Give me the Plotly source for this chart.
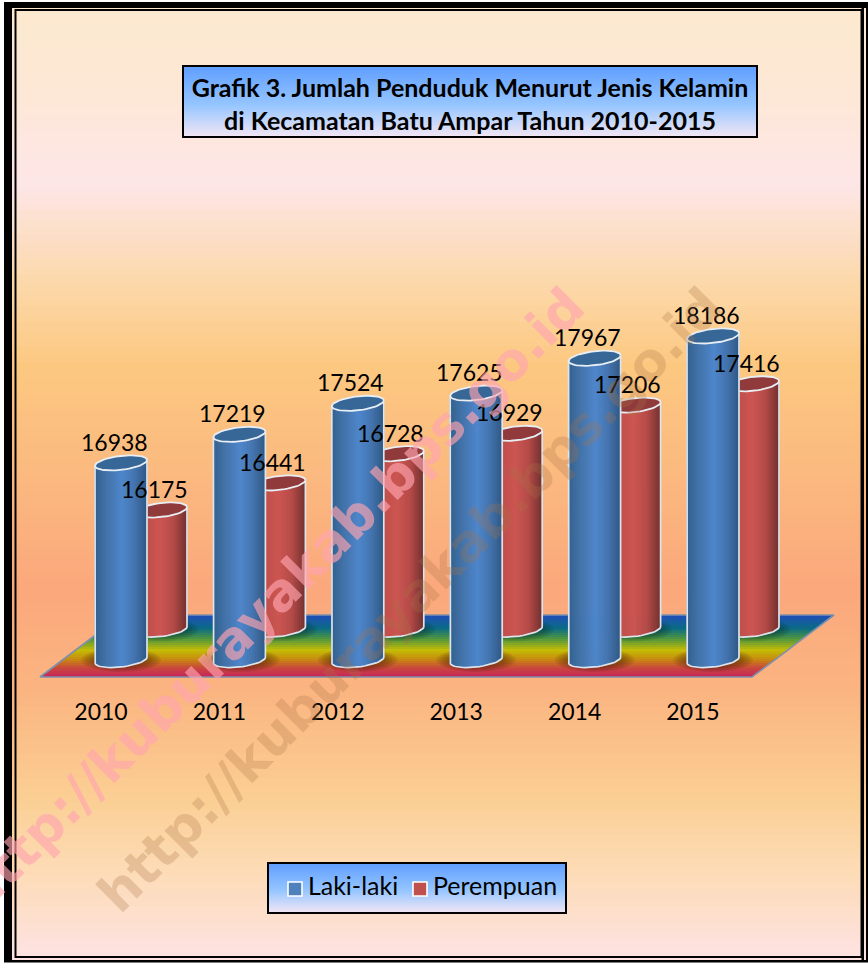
import numpy as np
import plotly.graph_objects as go

# ---------- data ----------
years = [2010, 2011, 2012, 2013, 2014, 2015]
laki = [16938, 17219, 17524, 17625, 17967, 18186]
perempuan = [16175, 16441, 16728, 16929, 17206, 17416]
year_labels = ["2010", "2011", "2012", "2013", "2014", "2015"]
series_names = ["Laki-laki", "Perempuan"]
title_lines = ["Grafik 3. Jumlah Penduduk Menurut Jenis Kelamin",
               "di Kecamatan Batu Ampar Tahun 2010-2015"]
watermark = "http://kuburayakab.bps.go.id"

# ---------- geometry (figure pixels) ----------
W, H = 868, 963
PX_PER_YEAR = 118.4
X2010 = 101.0
PX_PER_UNIT = 0.1017
BASE_VALUE = 15000
AXIS_BOTTOM = 696
BLUE_BASE, RED_BASE = 660.0, 629.5
RX, RY, TILT = 26.0, 7.0, 0.11
BLUE_OFF, RED_OFF = 20 / PX_PER_YEAR, 60 / PX_PER_YEAR
N_STRIPS = 26


def hex2rgb(c):
    return np.array([int(c[i:i + 2], 16) for i in (1, 3, 5)], float)


def mix(stops, t):
    pos = [s[0] for s in stops]
    cols = np.array([hex2rgb(s[1]) for s in stops])
    rgb = [np.interp(t, pos, cols[:, k]) for k in range(3)]
    return "rgb(%d,%d,%d)" % tuple(round(v) for v in rgb)


bg_stops = [(0, "#FCE9CE"), (0.09, "#FDE8D6"), (0.19, "#FDE6E6"), (0.30, "#FCD7A6"),
            (0.38, "#FCC880"), (0.50, "#FBB87F"), (0.61, "#FBA87C"), (0.72, "#FBB581"),
            (0.83, "#FBCF94"), (0.91, "#FDDCB8"), (1, "#FEE3E4")]
title_stops = [(0, "#5F9EFF"), (0.55, "#96C6FF"), (1, "#F3E6F5")]
floor_stops = [(0, "#1F4FB5"), (0.2, "#0A6C85"), (0.36, "#4C9440"), (0.55, "#C4BC05"),
               (0.7, "#C88A10"), (0.83, "#C94A3A"), (1, "#C6205F")]
blue_shade = [(-1, "#32608F"), (-0.55, "#4272A8"), (0.05, "#4E86CC"), (0.55, "#4373AE"), (1, "#2F5884")]
red_shade = [(-1, "#A84442"), (-0.6, "#BF4E4B"), (0.0, "#CC5551"), (0.5, "#B44A47"), (1, "#733130")]

fig = go.Figure()

# ---------- page background + boxes (pixel-aligned helper axes) ----------
N_ROWS = 120
rows = (np.arange(N_ROWS) + 0.5) / N_ROWS


def gradient(x0, x1, y0, y1, stops):
    fig.add_trace(go.Heatmap(
        x=[x0 + (x1 - x0) / 4, x0 + 3 * (x1 - x0) / 4], y=y0 + rows * (y1 - y0),
        z=[[r, r] for r in rows],
        colorscale=[[s[0], s[1]] for s in stops], zmin=0, zmax=1,
        showscale=False, zsmooth=False, hoverinfo="skip", xaxis="x", yaxis="y"))


gradient(4, 866, 2, 962, bg_stops)
gradient(183, 757, 66, 137, title_stops)
gradient(268, 566, 863, 913, title_stops)

# floor, built from thin trapezoids
F_TOP, F_BOT = 615.0, 677.0
FL_TOP, FL_BOT = 122.0, 40.0
FR_TOP, FR_BOT = 834.0, 752.0
for yy in np.arange(F_TOP, F_BOT, 2.0):
    yn = min(yy + 2.6, F_BOT)
    t0, t1 = (yy - F_TOP) / (F_BOT - F_TOP), (yn - F_TOP) / (F_BOT - F_TOP)
    xl0, xl1 = FL_TOP + t0 * (FL_BOT - FL_TOP), FL_TOP + t1 * (FL_BOT - FL_TOP)
    xr0, xr1 = FR_TOP + t0 * (FR_BOT - FR_TOP), FR_TOP + t1 * (FR_BOT - FR_TOP)
    fig.add_trace(go.Scatter(
        x=[xl0, xr0, xr1, xl1, xl0], y=[yy, yy, yn, yn, yy], mode="lines", fill="toself",
        line=dict(width=0), fillcolor=mix(floor_stops, t0), hoverinfo="skip",
        showlegend=False, xaxis="x", yaxis="y"))
fig.add_trace(go.Scatter(
    x=[FL_TOP, FR_TOP, FR_BOT, FL_BOT, FL_TOP], y=[F_TOP, F_TOP, F_BOT, F_BOT, F_TOP],
    mode="lines", line=dict(color="#7E90AC", width=1.6), hoverinfo="skip",
    showlegend=False, xaxis="x", yaxis="y"))

# soft contact shadows
theta = np.linspace(0, 2 * np.pi, 49)
for off, base, col, grow in [(RED_OFF, RED_BASE, "rgba(0,30,20,0.07)", 12),
                             (BLUE_OFF, BLUE_BASE, "rgba(40,10,0,0.09)", 14)]:
    for k in range(1, 6):
        sx, sy = [], []
        for yr in years:
            cx = X2010 + (yr - 2010 + off) * PX_PER_YEAR
            sx += list(cx + (RX + grow * k / 5) * np.cos(theta)) + [None]
            sy += list(base + (RY + 1.0 * k) * np.sin(theta)) + [None]
        fig.add_trace(go.Scatter(x=sx, y=sy, mode="lines", fill="toself", line=dict(width=0),
                                 fillcolor=col, hoverinfo="skip", showlegend=False,
                                 xaxis="x", yaxis="y"))

# legend content
fig.add_trace(go.Scatter(x=[295], y=[889], mode="markers+text", text=["\u2009" + series_names[0]],
                         textposition="middle right", name=series_names[0],
                         textfont=dict(family="Lato", size=25, color="#000"),
                         marker=dict(symbol="square", size=14, color="#4F81BD",
                                     line=dict(color="white", width=1.6)),
                         hoverinfo="skip", showlegend=False, xaxis="x", yaxis="y"))
fig.add_trace(go.Scatter(x=[420], y=[889], mode="markers+text", text=["\u2009" + series_names[1]],
                         textposition="middle right", name=series_names[1],
                         textfont=dict(family="Lato", size=25, color="#000"),
                         marker=dict(symbol="square", size=14, color="#C0504D",
                                     line=dict(color="white", width=1.6)),
                         hoverinfo="skip", showlegend=False, xaxis="x", yaxis="y"))


# ---------- cylinders ----------
def cylinders(values, off, shade, ax, top_fill, name):
    xa, ya = ax
    yr = np.array(years, float)
    val = np.array(values, float)
    for i in range(N_STRIPS):
        u = -1 + (2 * i + 1) / N_STRIPS
        dx = u * RX
        rise = TILT * dx / PX_PER_UNIT
        arc = RY * np.sqrt(1 - u * u) / PX_PER_UNIT
        base = BASE_VALUE + rise - arc
        fig.add_trace(go.Bar(
            x=yr + off + dx / PX_PER_YEAR, y=val + rise - base, base=[base] * len(values),
            width=(2 * RX / N_STRIPS + 0.7) / PX_PER_YEAR,
            marker=dict(color=mix(shade, u), line=dict(width=0)),
            name=name, hoverinfo="skip", showlegend=False, xaxis=xa, yaxis=ya))
    # silhouette
    t = np.linspace(np.pi, 2 * np.pi, 25)
    sx, sy, ex, ey = [], [], [], []
    tt = np.linspace(0, 2 * np.pi, 61)
    for y, v in zip(yr, val):
        cx = y + off
        ax_dx = RX * np.cos(t)
        sx += [cx - RX / PX_PER_YEAR] + list(cx + ax_dx / PX_PER_YEAR) + [cx + RX / PX_PER_YEAR, None]
        low = BASE_VALUE + (TILT * ax_dx + RY * np.sin(t)) / PX_PER_UNIT
        sy += [v - TILT * RX / PX_PER_UNIT] + list(low) + [v + TILT * RX / PX_PER_UNIT, None]
        e_dx = RX * np.cos(tt)
        ex += list(cx + e_dx / PX_PER_YEAR) + [None]
        ey += list(v + (TILT * e_dx + RY * np.sin(tt)) / PX_PER_UNIT) + [None]
    fig.add_trace(go.Scatter(x=sx, y=sy, mode="lines", line=dict(color="#DCE4EC", width=1.7),
                             hoverinfo="skip", showlegend=False, xaxis=xa, yaxis=ya))
    fig.add_trace(go.Scatter(x=ex, y=ey, mode="lines", fill="toself", fillcolor=top_fill,
                             line=dict(color="#E8EEF3", width=1.8),
                             hoverinfo="skip", showlegend=False, xaxis=xa, yaxis=ya))


cylinders(perempuan, RED_OFF, red_shade, ("x2", "y2"), "#913A3C", series_names[1])
cylinders(laki, BLUE_OFF, blue_shade, ("x3", "y3"), "#366797", series_names[0])

# ---------- axes ----------
x_range = [2010 - X2010 / PX_PER_YEAR, 2010 + (W - X2010) / PX_PER_YEAR]
dom = [1 - AXIS_BOTTOM / H, 1]


def y_range(base_px):
    return [BASE_VALUE - (AXIS_BOTTOM - base_px) / PX_PER_UNIT, BASE_VALUE + base_px / PX_PER_UNIT]


hidden = dict(visible=False, showgrid=False, zeroline=False, fixedrange=True)
fig.update_layout(
    width=W, height=H, autosize=False, margin=dict(l=0, r=0, t=0, b=0),
    paper_bgcolor="white", plot_bgcolor="rgba(0,0,0,0)", barmode="overlay", showlegend=False,
    xaxis=dict(range=[0, W], domain=[0, 1], anchor="y", **hidden),
    yaxis=dict(range=[H, 0], domain=[0, 1], anchor="x", **hidden),
    xaxis2=dict(range=x_range, domain=[0, 1], anchor="y2", **hidden),
    yaxis2=dict(range=y_range(RED_BASE), domain=dom, anchor="x2", **hidden),
    xaxis3=dict(range=x_range, domain=[0, 1], anchor="y3", tickmode="array", tickvals=years,
                ticktext=year_labels, showgrid=False, zeroline=False, showline=False, ticks="",
                tickfont=dict(family="Lato", size=23, color="#000"), fixedrange=True),
    yaxis3=dict(range=y_range(BLUE_BASE), domain=dom, anchor="x3", **hidden),
    title=dict(text="<b>" + title_lines[0] + "<br>" + title_lines[1] + "</b>",
               x=470 / W, y=1 - 97 / H, xref="paper", yref="paper", xanchor="center", yanchor="middle",
               font=dict(family="Lato", size=25, color="#000")),
)

# ---------- data labels ----------
anns = []
for yr, v in zip(years, laki):
    anns.append(dict(x=yr + BLUE_OFF, y=v, xref="x3", yref="y3", text=str(v), showarrow=False,
                     xshift=-7, yshift=21, font=dict(family="Lato", size=23, color="#000")))
for yr, v in zip(years, perempuan):
    anns.append(dict(x=yr + RED_OFF, y=v, xref="x2", yref="y2", text=str(v), showarrow=False,
                     xshift=-7, yshift=21, font=dict(family="Lato", size=23, color="#000")))
# ---------- watermarks ----------
anns.append(dict(x=272 / W, y=1 - 600 / H, xref="paper", yref="paper", text="<b>" + watermark + "</b>",
                 textangle=-45, showarrow=False, xanchor="center", yanchor="middle",
                 font=dict(family="DejaVu Sans", size=52, color="rgba(255,165,175,0.65)")))
anns.append(dict(x=410 / W, y=1 - 600 / H, xref="paper", yref="paper", text="<b>" + watermark + "</b>",
                 textangle=-45, showarrow=False, xanchor="center", yanchor="middle",
                 font=dict(family="DejaVu Sans", size=52, color="rgba(170,115,70,0.27)")))
fig.update_layout(annotations=anns)

# ---------- frame and box outlines ----------
def rect(x0, y0, x1, y1, w, col="#000"):
    return dict(type="rect", xref="x", yref="y", x0=x0, y0=y0, x1=x1, y1=y1,
                line=dict(color=col, width=w), layer="above")


def bar_rect(x0, y0, x1, y1):
    return dict(type="rect", xref="x", yref="y", x0=x0, y0=y0, x1=x1, y1=y1,
                fillcolor="#000", line=dict(width=0), layer="above")


shapes = [
    bar_rect(4, 2, 12, 962),
    bar_rect(4, 2, 866, 8),
    bar_rect(861.5, 2, 864, 962),
    bar_rect(4, 960, 868, 962.5),
    rect(15.5, 10, 861.5, 957, 2),
    bar_rect(866, 2, 868, 962),
    rect(183, 66, 757, 137, 2),
    rect(268, 863, 566, 913, 2),
]
fig.update_layout(shapes=shapes)

fig.write_html("out.html", config={"displayModeBar": False},
               post_script="document.body.style.margin='0';")
